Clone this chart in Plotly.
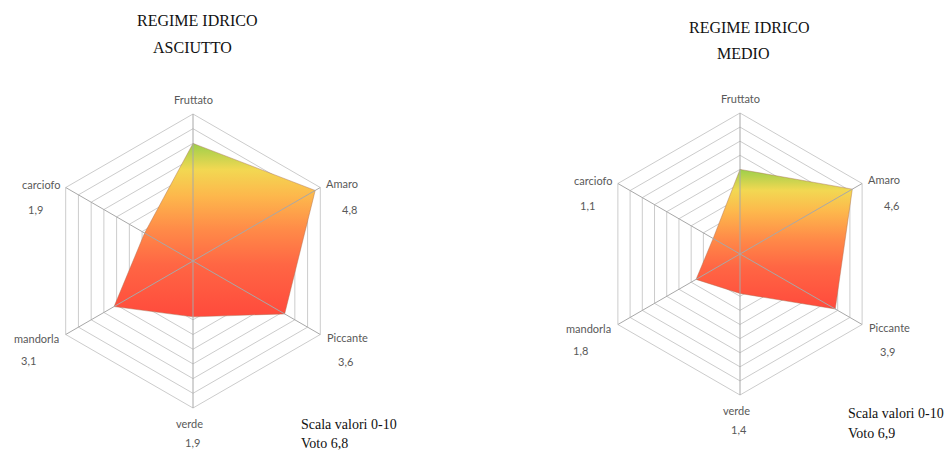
import numpy as np
import plotly.graph_objects as go

# ---------------- data ----------------
categories = ["Fruttato", "Amaro", "Piccante", "verde", "mandorla", "carciofo"]
values_asciutto = [4.0, 4.8, 3.6, 1.9, 3.1, 1.9]
values_medio = [3.0, 4.6, 3.9, 1.4, 1.8, 1.1]
value_label_shown = [False, True, True, True, True, True]
ring_levels = [0.5, 1.0, 1.5, 2.0, 2.5, 3.0, 3.5, 4.0, 4.5, 5.0]
r_max = 5.0
titles = [["REGIME IDRICO", "ASCIUTTO"], ["REGIME IDRICO", "MEDIO"]]
scale_note = "Scala valori 0-10"
votes = ["Voto 6,8", "Voto 6,9"]
series = [values_asciutto, values_medio]

# ---------------- layout / style ----------------
W, H = 952, 459
panels = [
    dict(cx=193, cy=261, rpx=147, xdom=(0.0, 0.5), title_y=(20, 48), title_x=(197, 192),
         note_xy=(299, 424), vote_xy=(299, 443)),
    dict(cx=740, cy=254, rpx=141, xdom=(0.5, 1.0), title_y=(27, 53), title_x=(749, 743),
         note_xy=(846, 413), vote_xy=(846, 433)),
]
# pixel offsets (dx right, dy down) of category names and values from each outer vertex
name_off = [(0, -15), (22, -4), (27, 3), (-4, 15), (-29, 3.5), (-25, -3)]
val_off = [(0, 0), (29, 22), (25, 27), (-1, 34), (-37, 26), (-30, 22)]

ring_color = "#cccccc"
spoke_color = "#a8a8a8"
label_color = "#595959"
label_font = "Lato"
serif = "Liberation Serif"
grad = [
    [0.0, "#ff4a3c"],
    [0.3, "#ff6644"],
    [0.5, "#ff8a48"],
    [0.7, "#fdb84c"],
    [0.85, "#f2d852"],
    [1.0, "#9ccf4a"],
]

n = len(categories)
ang = np.deg2rad(90 - 60 * np.arange(n))


def polar_xy(rs):
    rs = np.asarray(rs, dtype=float)
    return rs * np.cos(ang), rs * np.sin(ang)


fig = go.Figure()
annotations = []

for k, (vals, p) in enumerate(zip(series, panels)):
    xa = "x" if k == 0 else "x2"
    ya = "y" if k == 0 else "y2"
    # rings
    for lev in ring_levels:
        x, y = polar_xy([lev] * n)
        fig.add_trace(go.Scatter(x=list(x) + [x[0]], y=list(y) + [y[0]], mode="lines",
                                 line=dict(color=ring_color, width=1), hoverinfo="skip",
                                 xaxis=xa, yaxis=ya))
    # filled series
    x, y = polar_xy(vals)
    fig.add_trace(go.Scatter(x=list(x) + [x[0]], y=list(y) + [y[0]], mode="lines",
                             fill="toself",
                             fillgradient=dict(type="vertical", colorscale=grad),
                             line=dict(color="rgba(170,110,80,0.55)", width=0.8),
                             xaxis=xa, yaxis=ya, hoverinfo="skip"))
    # spokes on top
    xo, yo = polar_xy([r_max] * n)
    for i in range(n):
        fig.add_trace(go.Scatter(x=[0, xo[i]], y=[0, yo[i]], mode="lines",
                                 line=dict(color=spoke_color, width=1), hoverinfo="skip",
                                 xaxis=xa, yaxis=ya))
    # category names and values
    for i in range(n):
        annotations.append(dict(x=xo[i], y=yo[i], xref=xa, yref=ya, text=categories[i],
                                showarrow=False, xshift=name_off[i][0], yshift=-name_off[i][1],
                                xanchor="center", yanchor="middle",
                                font=dict(family=label_font, size=11, color=label_color)))
        if value_label_shown[i]:
            annotations.append(dict(x=xo[i], y=yo[i], xref=xa, yref=ya,
                                    text=f"{vals[i]:.1f}".replace(".", ","),
                                    showarrow=False, xshift=val_off[i][0], yshift=-val_off[i][1],
                                    xanchor="center", yanchor="middle",
                                    font=dict(family=label_font, size=11, color=label_color)))
    # titles
    for line, ty, tx in zip(titles[k], p["title_y"], p["title_x"]):
        annotations.append(dict(x=tx / W, y=1 - ty / H, xref="paper", yref="paper", text=line,
                                showarrow=False, xanchor="center", yanchor="middle",
                                font=dict(family=serif, size=16, color="#111111")))
    for txt, (tx, ty) in [(scale_note, p["note_xy"]), (votes[k], p["vote_xy"])]:
        annotations.append(dict(x=tx / W, y=1 - ty / H, xref="paper", yref="paper", text=txt,
                                showarrow=False, xanchor="left", yanchor="middle",
                                font=dict(family=serif, size=14, color="#111111")))

# axis ranges so that (cx, cy) px is the centre and rpx px equals r_max
axes = {}
for k, p in enumerate(panels):
    u = p["rpx"] / r_max
    x0px, x1px = p["xdom"][0] * W, p["xdom"][1] * W
    xr = [(x0px - p["cx"]) / u, (x1px - p["cx"]) / u]
    yr = [(p["cy"] - H) / u, p["cy"] / u]
    sfx = "" if k == 0 else "2"
    common = dict(visible=False, showgrid=False, zeroline=False, fixedrange=True)
    axes["xaxis" + sfx] = dict(domain=list(p["xdom"]), range=xr, anchor="y" + sfx, **common)
    axes["yaxis" + sfx] = dict(domain=[0, 1], range=yr, anchor="x" + sfx, **common)

fig.update_layout(width=W, height=H, margin=dict(l=0, r=0, t=0, b=0), showlegend=False,
                  plot_bgcolor="white", paper_bgcolor="white", annotations=annotations, **axes)

fig.write_html("out.html", config={"displayModeBar": False},
               post_script="document.body.style.margin='0';document.body.style.overflow='hidden';")
